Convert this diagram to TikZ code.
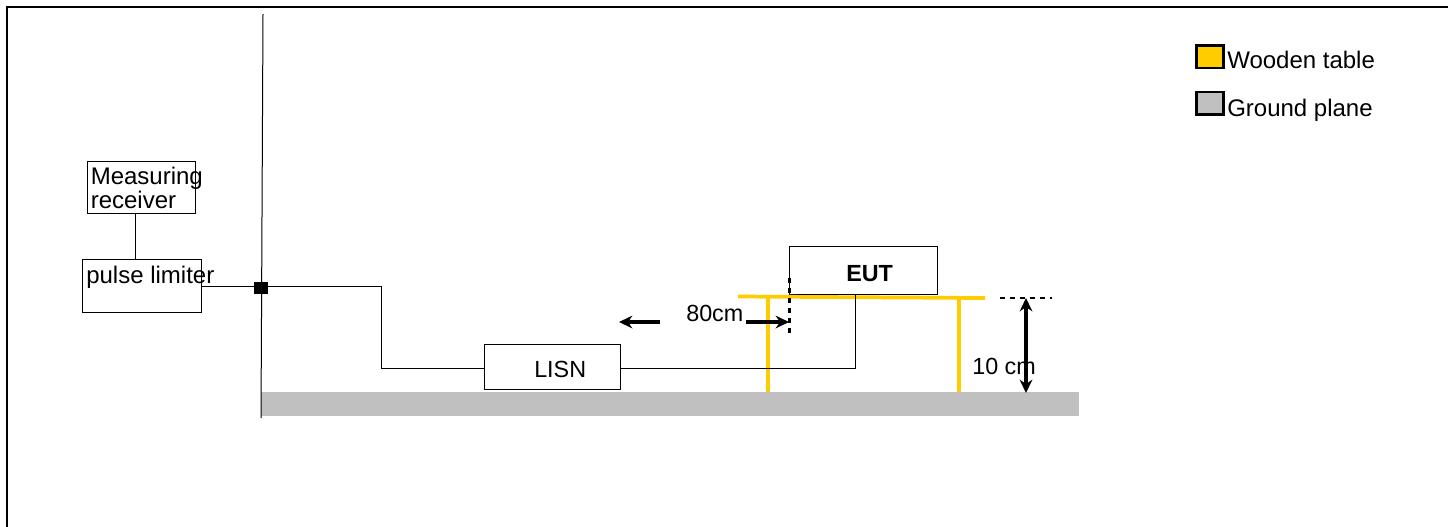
\documentclass[tikz,border=0pt]{standalone}
\usepackage{fontspec}
\setmainfont{Liberation Sans}
\usetikzlibrary{arrows.meta}
\definecolor{tableyellow}{HTML}{FFCC00}
\definecolor{planegray}{HTML}{C0C0C0}
\tikzset{
	devicebox/.style={draw, line width=0.8pt, inner sep=0pt, anchor=north west},
	labeltext/.style={inner sep=0pt, anchor=base west, align=left},
	biglabel/.style={labeltext, font=\fontsize{18}{18}\selectfont},
	wire/.style={line width=0.75pt},
	tableline/.style={tableyellow, line width=2.8pt},
	dimarrow/.style={line width=2.5pt, -{Stealth[length=10pt,width=9.5pt]}},
	dimdash/.style={line width=1.6pt, dash pattern=on 4pt off 3.5pt},
	legendbox/.style={draw, line width=2pt, minimum width=20.5pt, minimum height=17pt, inner sep=0pt, anchor=north west}
}
\begin{document}
\begin{tikzpicture}[x=0.75pt, y=-0.75pt, font=\fontsize{17.5}{18}\selectfont, line join=miter, >=stealth]
	\useasboundingbox (0,0) rectangle (1448,526);
	\draw[line width=1.5pt] (7,530) -- (7,7) -- (1450,7);
	% ground plane and wall
	\fill[planegray] (261,392) rectangle (1079,416);
	\draw[wire] (263,14) -- (261,418);
	% boxes
	\node[devicebox, minimum width=81pt, minimum height=39pt] (receiver) at (87,161) {};
	\node[devicebox, minimum width=89.25pt, minimum height=39.75pt] (limiter) at (82,259) {};
	\node[devicebox, minimum width=102pt, minimum height=33.5pt] (lisn) at (484,344) {};
	\node[devicebox, minimum width=111pt, minimum height=36.5pt] (eut) at (789,245.5) {};
	\node[biglabel] (receiverlabel) at (90.5,208) {Measuring\\receiver};
	\node[biglabel] (limiterlabel) at (86,283) {pulse limiter};
	\node[labeltext] (lisnlabel) at (534,377) {LISN};
	\node[labeltext, font=\fontsize{17.5}{18}\selectfont\bfseries] (eutlabel) at (846,281) {EUT};
	% table
	\coordinate (tableleft) at (738,296.5);
	\coordinate (tableright) at (985,298);
	\coordinate (legtopa) at (768,297);
	\coordinate (legbota) at (768,392);
	\coordinate (legtopb) at (959,298);
	\coordinate (legbotb) at (959,392);
	\draw[tableline] (tableleft) -- (tableright);
	\draw[tableline] (legtopa) -- (legbota);
	\draw[tableline] (legtopb) -- (legbotb);
	% wiring
	\coordinate (cornera) at (381,286.5);
	\coordinate (cornerb) at (381,368);
	\coordinate (cornerc) at (855,368);
	\coordinate (cornerd) at (855,295);
	\coordinate (receiverfoot) at (135.5,213);
	\draw[wire] (receiverfoot) -- (receiverfoot |- limiter.north);
	\draw[wire] (limiter.east |- cornera) -- (cornera) -- (cornerb) -- (lisn.west |- cornerb);
	\draw[wire] (lisn.east |- cornerc) -- (cornerc) -- (cornerd);
	\fill (254,282) rectangle (268,294);
	% dimensions
	\coordinate (dimleftend) at (619,322);
	\coordinate (dimleftstart) at (660,322);
	\coordinate (dimrightstart) at (746,322);
	\coordinate (dimrightend) at (789,322);
	\coordinate (heighttop) at (1026,298);
	\coordinate (heightbot) at (1026,393);
	\draw[dimdash] (789.5,278) -- (789.5,333);
	\draw[dimdash] (1000,298) -- (1052,298);
	\draw[dimarrow] (dimleftstart) -- (dimleftend);
	\draw[dimarrow] (dimrightstart) -- (dimrightend);
	\draw[dimarrow, {Stealth[length=10pt,width=9.5pt]}-{Stealth[length=10pt,width=9.5pt]}] (heighttop) -- (heightbot);
	\node[labeltext] (widthlabel) at (686,321) {80cm};
	\node[labeltext] (heightlabel) at (972,374) {10 cm};
	% legend
	\node[legendbox, fill=tableyellow] (woodenbox) at (1195,44) {};
	\node[legendbox, fill=planegray] (groundbox) at (1195,90.7) {};
	\node[biglabel] (woodenlabel) at (1227,68) {Wooden table};
	\node[biglabel] (groundlabel) at (1227,116) {Ground plane};
\end{tikzpicture}
\end{document}
